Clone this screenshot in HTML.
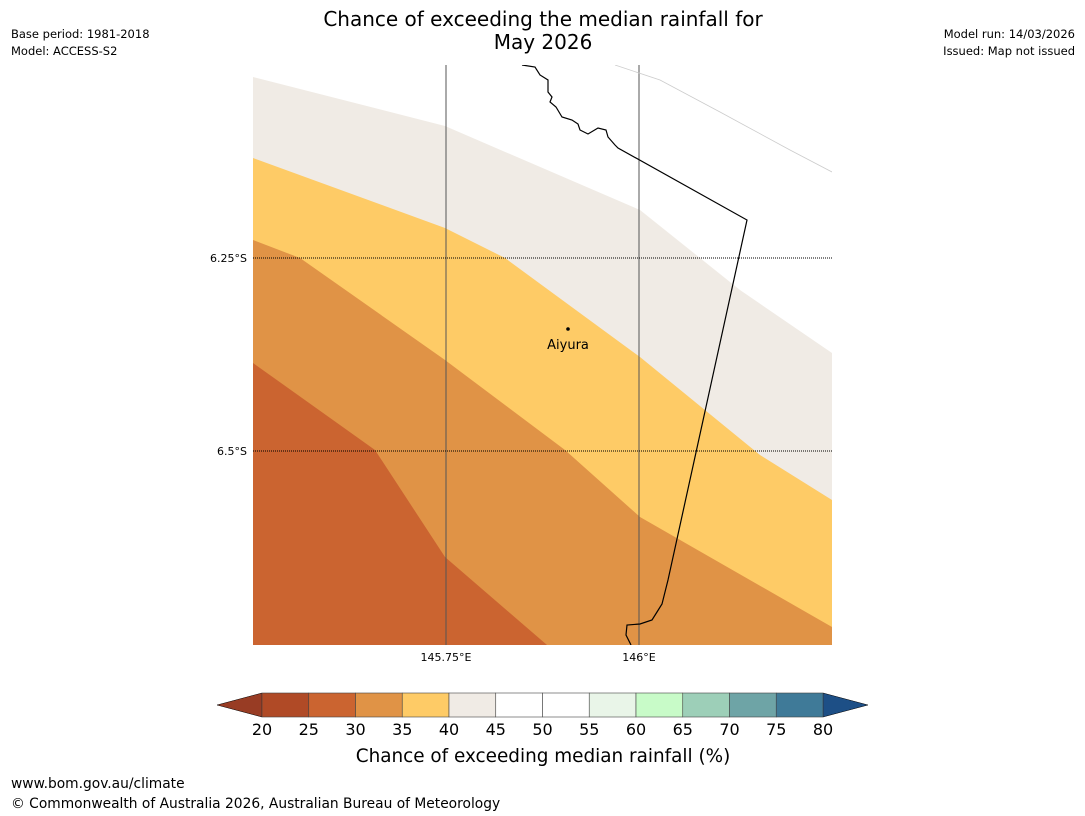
<!DOCTYPE html>
<html><head><meta charset="utf-8"><style>
body{margin:0;background:#fff;font-family:"Liberation Sans","DejaVu Sans",sans-serif;}
#wrap{position:relative;width:1085px;height:816px;overflow:hidden;}
svg{position:absolute;left:0;top:0;}
</style></head><body>
<div id="wrap">
<svg id="s" width="1085" height="816" viewBox="0 0 1085 816" font-family="DejaVu Sans, Liberation Sans, sans-serif">
<text x="543" y="26" font-size="20" text-anchor="middle">Chance of exceeding the median rainfall for</text>
<text x="543" y="49" font-size="20" text-anchor="middle">May 2026</text>
<text x="11" y="38" font-size="11.5">Base period: 1981-2018</text>
<text x="11" y="55" font-size="11.5">Model: ACCESS-S2</text>
<text x="1075" y="38" font-size="11.5" text-anchor="end">Model run: 14/03/2026</text>
<text x="1075" y="55" font-size="11.5" text-anchor="end">Issued: Map not issued</text>
<defs><clipPath id="mc"><rect x="253" y="65" width="579" height="580"/></clipPath></defs>
<g clip-path="url(#mc)">
<polygon fill="#f0ebe5" points="253,77 445,126 640,210 740,290 832,353 832,645 253,645"/>
<polygon fill="#fecb66" points="253,158 445,228 505,258 640,357 760,455 832,500 832,645 253,645"/>
<polygon fill="#e09346" points="253,240 300,258 445,360 565,450 640,517 832,627 832,645 253,645"/>
<polygon fill="#cb6430" points="253,363 375,450 445,557 547,645 253,645"/>
<line x1="446" y1="65" x2="446" y2="645" stroke="#555" stroke-width="1"/>
<line x1="639" y1="65" x2="639" y2="645" stroke="#555" stroke-width="1"/>
<line x1="253" y1="258" x2="832" y2="258" stroke="#000" stroke-width="1" stroke-dasharray="1,1"/>
<line x1="253" y1="451" x2="832" y2="451" stroke="#000" stroke-width="1" stroke-dasharray="1,1"/>
<polyline points="615,65 660,80 720,112 790,150 832,172" fill="none" stroke="#ccc" stroke-width="0.8"/>
<polyline fill="none" stroke="#000" stroke-width="1.2" points="522,65 535,67 540,75 548,80 548,92 552,97 550,102 556,107 562,117 572,120 578,124 580,130 588,134 598,128 606,130 608,137 615,145 618,148 747,220 668,580 662,604 657,612 652,620 640,624 627,625 626,635 631,645"/>
</g>
<circle cx="568" cy="329" r="1.8" fill="#000"/>
<text x="568" y="349" font-size="13" text-anchor="middle">Aiyura</text>
<text x="247" y="262" font-size="11" text-anchor="end">6.25°S</text>
<text x="247" y="455" font-size="11" text-anchor="end">6.5°S</text>
<text x="446" y="661" font-size="11" text-anchor="middle">145.75°E</text>
<text x="639" y="661" font-size="11" text-anchor="middle">146°E</text>
<g id="cb"></g>
<text x="543" y="762" font-size="18.4" text-anchor="middle">Chance of exceeding median rainfall (%)</text>
<text x="11" y="788" font-size="13.8">www.bom.gov.au/climate</text>
<text x="11" y="808" font-size="13.8">© Commonwealth of Australia 2026, Australian Bureau of Meteorology</text>
</svg>
</div>
<script>
const cbTicks=[20,25,30,35,40,45,50,55,60,65,70,75,80];
const cbColors=["#b04a26","#cb6430","#e09346","#fecb66","#f0ebe5","#ffffff","#ffffff","#e9f5e8","#c8fbc8","#9dcfb8","#6ea4a6","#3f7a98"];
const cbUnder="#983c24", cbOver="#1d4f86";
const NS="http://www.w3.org/2000/svg";
const g=document.getElementById('cb');
const x0=262,x1=823,y0=693,y1=717;
const sx=v=>x0+(v-cbTicks[0])/(cbTicks[cbTicks.length-1]-cbTicks[0])*(x1-x0);
function mk(t,a){const e=document.createElementNS(NS,t);for(const k in a)e.setAttribute(k,a[k]);g.appendChild(e);return e;}
let u=mk('polygon',{points:`${x0},${y0} 217,${(y0+y1)/2} ${x0},${y1}`,fill:cbUnder,stroke:'#000','stroke-width':0.5});


let o=mk('polygon',{points:`${x1},${y0} 868,${(y0+y1)/2} ${x1},${y1}`,fill:cbOver,stroke:'#000','stroke-width':0.5});


cbColors.forEach((c,i)=>{
 const r=mk('rect',{x:sx(cbTicks[i]),y:y0,width:sx(cbTicks[i+1])-sx(cbTicks[i]),height:y1-y0,fill:c,stroke:'#444','stroke-width':0.6});
 
 
});
cbTicks.forEach(v=>{
 const t=mk('text',{x:sx(v),y:735,'font-size':16,'text-anchor':'middle'});
 t.textContent=v;
 
 
});
</script>
</body></html>
